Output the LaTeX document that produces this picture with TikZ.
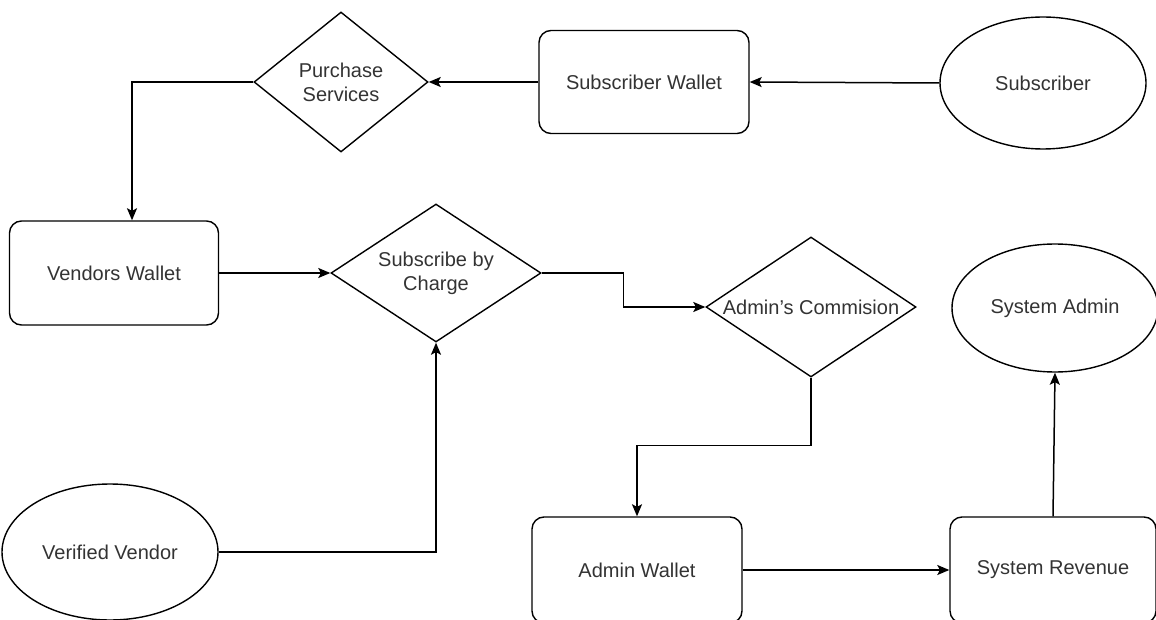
\documentclass[tikz,border=0pt]{standalone}
\usepackage{fontspec}
\setmainfont{Liberation Sans}
\usepackage{tikz}
\usetikzlibrary{arrows.meta,shapes.geometric}
\definecolor{ink}{HTML}{333333}

\tikzset{
  wallet/.style={draw, rounded corners=12pt, line width=1.4pt, text=ink},
  actor/.style={draw, ellipse, line width=1.4pt, text=ink},
  choice/.style={draw, diamond, aspect=1.5, inner sep=0pt, line width=1.4pt, text=ink, align=center},
  flow/.style={->, line width=1.5pt}
}

\begin{document}
\begin{tikzpicture}[>={Stealth[length=12pt, width=10pt, inset=2.5pt]}, x=1pt, y=-1pt, font=\fontsize{20}{24}\selectfont]
	\useasboundingbox (0,0) rectangle (1156,620);
	\clip (0,0) rectangle (1156,620);

	\node (sub)   at (1043,83)  [actor, minimum width=206pt, minimum height=132pt] {Subscriber};
	\node (subw)  at (644,82)   [wallet, minimum width=210pt, minimum height=103pt] {Subscriber Wallet};
	\node (purch) at (341,82)   [choice, minimum width=174pt, minimum height=140pt] {Purchase\\Services};
	\node (vwal)  at (114,273)  [wallet, minimum width=209pt, minimum height=104pt] {Vendors Wallet};
	\node (sbc)   at (436,273)  [choice, minimum width=210pt, minimum height=138pt] {Subscribe by\\Charge};
	\node (adm)   at (811,307)  [choice, minimum width=210pt, minimum height=140pt] {\makebox[0pt]{Admin's Commision}};
	\node (sadm)  at (1055,308) [actor, minimum width=206pt, minimum height=128pt] {System Admin};
	\node (vv)    at (110,552)  [actor, minimum width=216pt, minimum height=136pt] {Verified Vendor};
	\node (awal)  at (637,570)  [wallet, minimum width=210pt, minimum height=106pt] {Admin Wallet};
	\node (srev)  at (1053,570) [wallet, minimum width=206pt, minimum height=106pt] {System Revenue};

	\draw [flow] (sub.west)   -- (subw.east);
	\draw [flow] (subw.west)  -- (purch.east);
	\draw [flow] (purch.west) -| ([xshift=18pt]vwal.north);
	\draw [flow] (vwal.east)  -- (sbc.west);
	\draw [flow] (vv.east)    -| (sbc.south);
	\draw [flow] (sbc.east)   -- ++(82,0) |- (adm.west);
	\draw [flow] (adm.south)  -- ++(0,68) -| (awal.north);
	\draw [flow] (awal.east)  -- (srev.west);
	\draw [flow] (srev.north) -- (sadm.south);
\end{tikzpicture}
\end{document}
